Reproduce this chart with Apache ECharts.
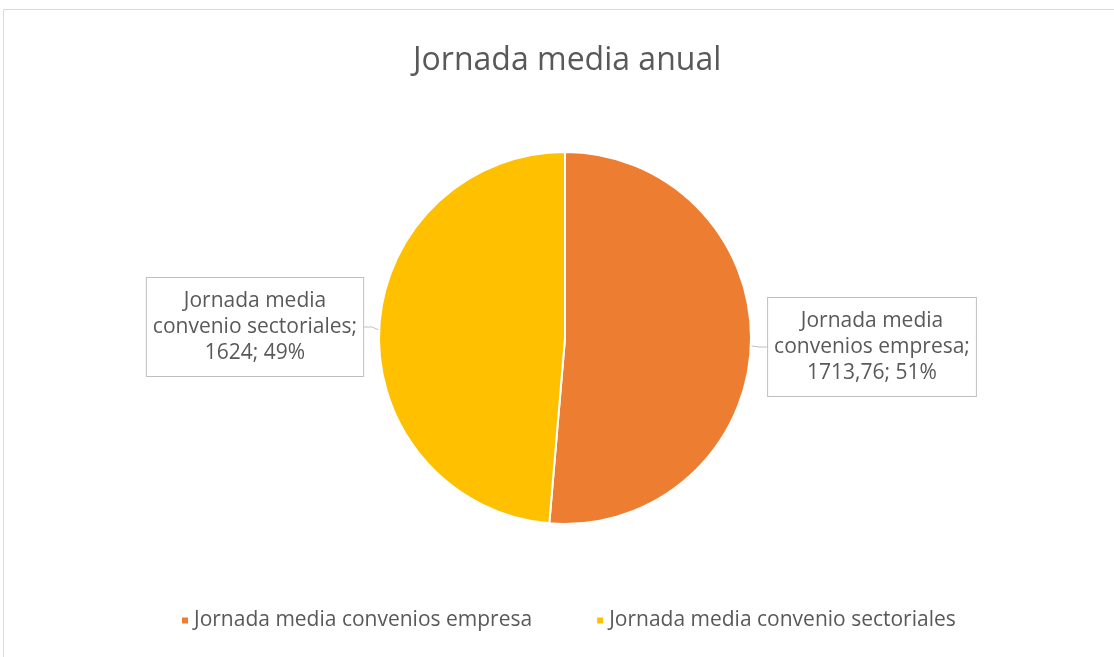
<!DOCTYPE html>
<html>
<head>
<meta charset="utf-8">
<script src="https://cdn.jsdelivr.net/npm/echarts@6/dist/echarts.min.js"></script>
<style>
    html, body { margin: 0; padding: 0; background: #fff; }
    #main { width: 1114px; height: 657px; }
</style>
</head>
<body>
<div id="main"></div>
<script>
// datos
var names = ['Jornada media convenios empresa', 'Jornada media convenio sectoriales'];
var values = [1713.76, 1624];
var colors = ['#ED7D31', '#FFC000'];
// posiciones de las etiquetas (centro de cada caja)
var labelPos = [[872, 347], [255, 327]];

var chart = echarts.init(document.getElementById('main'));

var pieData = names.map(function (n, i) {
    return { name: n, value: values[i], itemStyle: { color: colors[i] } };
});

var option = {
    animation: false,
    textStyle: { fontFamily: 'Open Sans' },
    title: {
        text: 'Jornada media anual',
        left: 408,
        top: 40,
        textStyle: { fontFamily: 'Open Sans', fontSize: 32, fontWeight: 'normal', color: '#595959' }
    },
    graphic: [{
        type: 'rect',
        shape: { x: 3.5, y: 9.5, width: 1200, height: 700 },
        style: { fill: 'none', stroke: '#d9d9d9', lineWidth: 1 },
        silent: true
    }],
    legend: {
        top: 605,
        left: 175,
        icon: 'rect',
        itemWidth: 8,
        itemHeight: 8,
        itemGap: 63,
        textStyle: { fontSize: 21, color: '#595959', fontFamily: 'Open Sans' },
        data: names
    },
    series: [{
        type: 'pie',
        center: [565, 338],
        radius: 186,
        startAngle: 90,
        clockwise: true,
        data: pieData,
        itemStyle: { borderColor: '#fff', borderWidth: 2 },
        label: {
            show: true,
            position: 'outside',
            formatter: function (p) {
                var v = String(p.value).replace('.', ',');
                return p.name.replace('Jornada media ', 'Jornada media\n') + ';\n' + v + '; ' + Math.round(p.percent) + '%';
            },
            fontFamily: 'Open Sans',
            fontSize: 21,
            lineHeight: 26,
            color: '#595959',
            align: 'center',
            backgroundColor: '#fff',
            borderColor: '#bfbfbf',
            borderWidth: 1,
            padding: [10, 6, 10, 6]
        },
        labelLine: {
            show: true,
            length: 8,
            length2: 8,
            lineStyle: { color: '#bfbfbf', width: 1 }
        },
        labelLayout: function (params) {
            var pos = labelPos[params.dataIndex];
            return { x: pos[0], y: pos[1], align: 'center', verticalAlign: 'middle' };
        }
    }]
};

chart.setOption(option);
</script>
</body>
</html>
